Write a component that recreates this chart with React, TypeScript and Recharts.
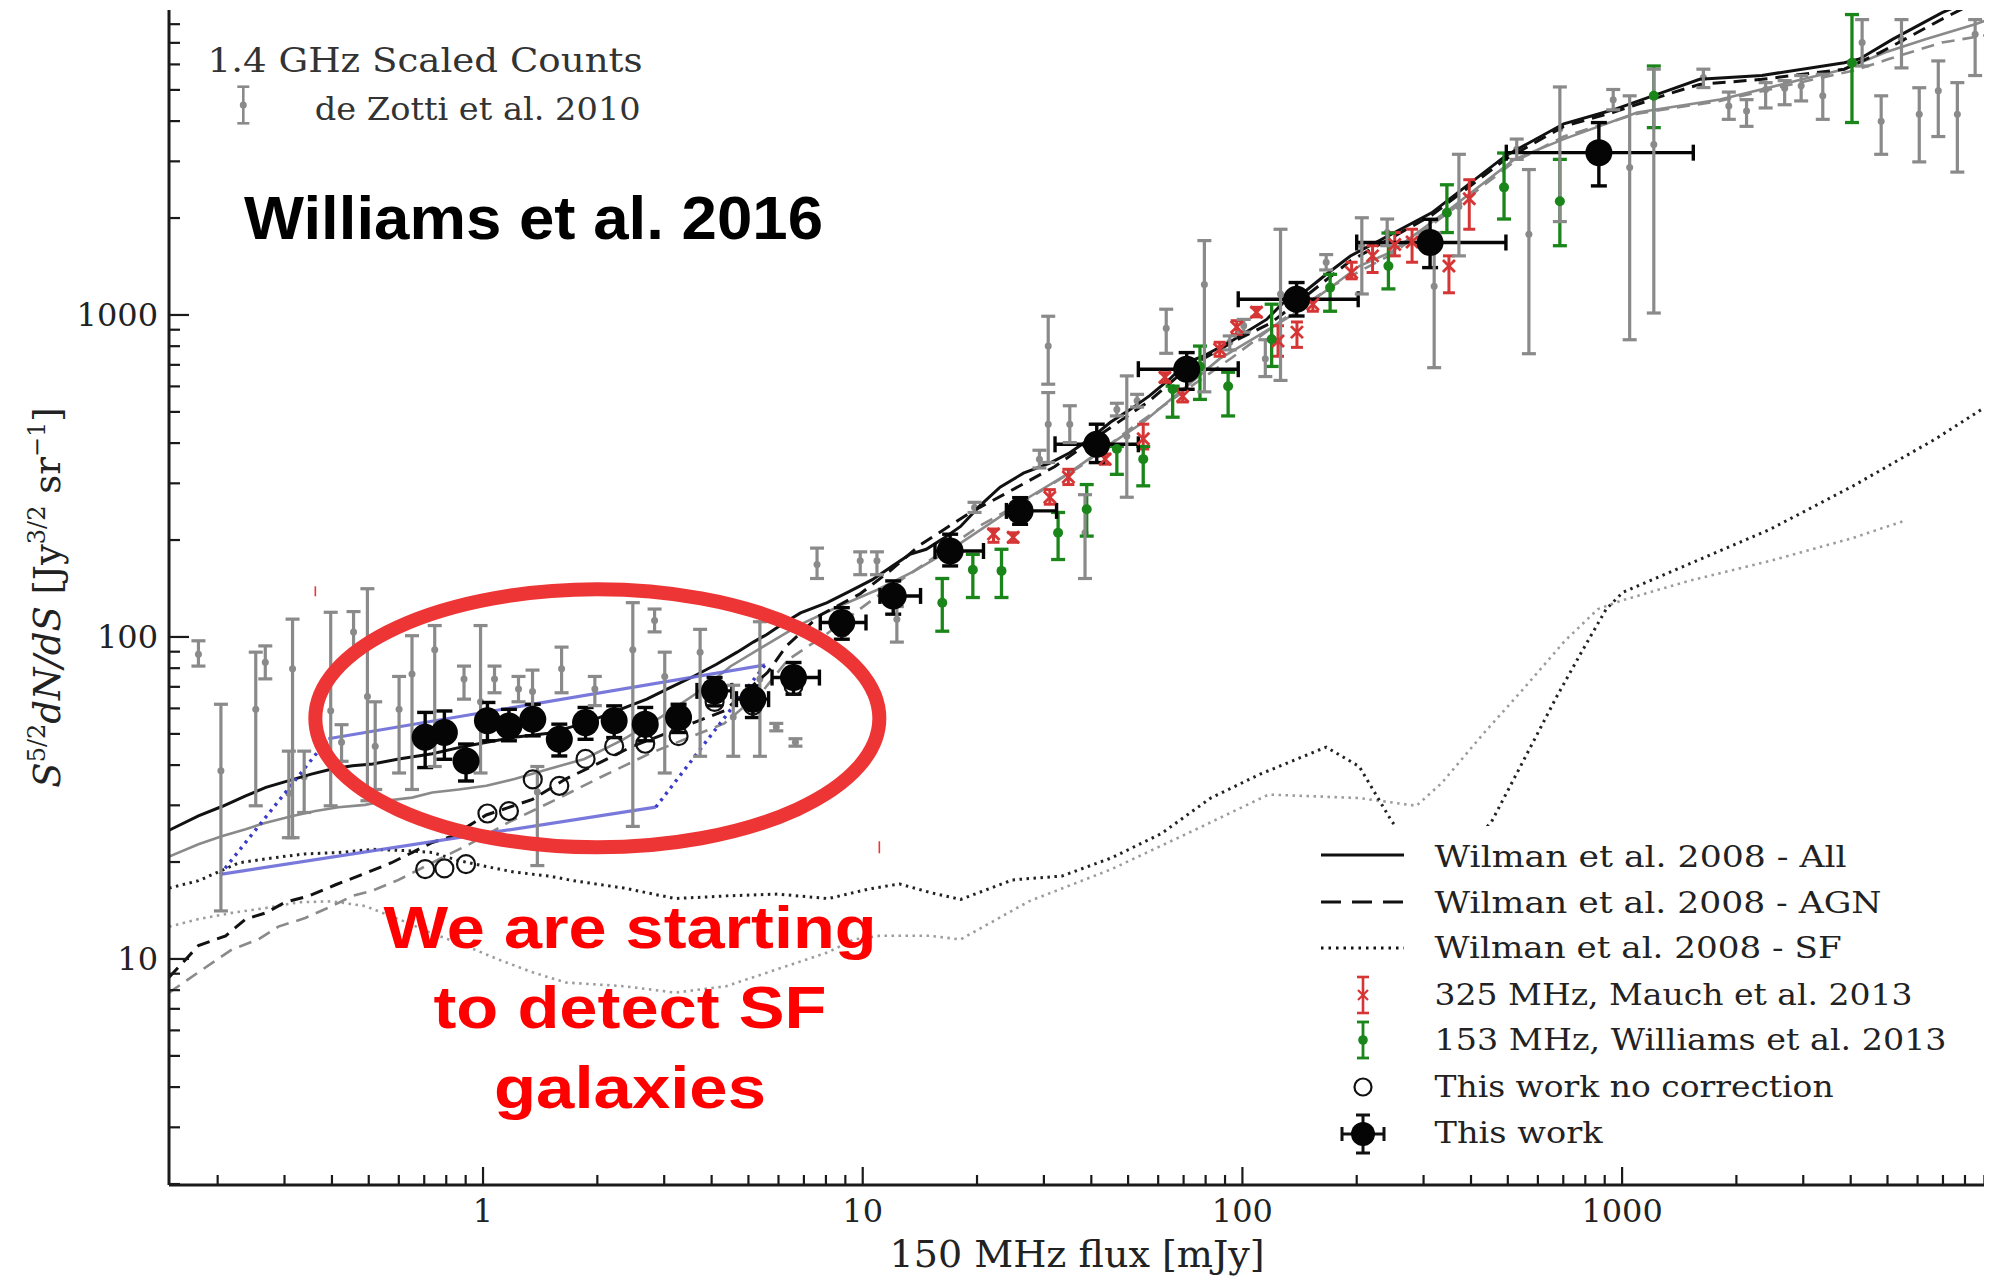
import React from 'react';
import { ComposedChart, XAxis, YAxis, Line, Scatter, ErrorBar, ReferenceDot } from 'recharts';

// ---------- axes ----------
const fluxDomain: [number, number] = [0.1489, 9087];
const countDomain: [number, number] = [1.986, 8854];
const fluxTicks = [
  0.2, 0.3, 0.4, 0.5, 0.6, 0.7, 0.8, 0.9, 1, 2, 3, 4, 5, 6, 7, 8, 9, 10, 20, 30, 40, 50, 60, 70, 80, 90,
  100, 200, 300, 400, 500, 600, 700, 800, 900, 1000, 2000, 3000, 4000, 5000, 6000, 7000, 8000, 9000,
];
const countTicks = [
  2, 3, 4, 5, 6, 7, 8, 9, 10, 20, 30, 40, 50, 60, 70, 80, 90, 100, 200, 300, 400, 500, 600, 700, 800, 900,
  1000, 2000, 3000, 4000, 5000, 6000, 7000, 8000,
];

// ---------- data: [flux mJy, S^5/2 dN/dS, lower, upper] ----------
const deZotti2010: [number, number, number, number][] = [
  [0.178, 88.4, 81.2, 97.3], [0.204, 38.4, 14.1, 61.8], [0.252, 59.6, 29.9, 89.7], [0.267, 83.4, 74.1, 93.8],
  [0.315, 79.7, 23.8, 113.6], [0.308, 32.7, 23.8, 44.2], [0.338, 36.8, 28.5, 44.2], [0.397, 59.0, 29.9, 119.3],
  [0.424, 47.1, 41.1, 53.4], [0.456, 103.7, 88.9, 119.9], [0.496, 65.3, 31.0, 141.2], [0.52, 45.8, 33.6, 62.9],
  [0.601, 59.6, 37.8, 75.4], [0.65, 76.8, 33.6, 100.9], [0.746, 91.3, 39.6, 108.5], [0.891, 74.1, 64.1, 81.2],
  [0.985, 62.9, 37.8, 108.5], [1.072, 74.1, 67.1, 81.2], [1.24, 68.9, 62.9, 75.4], [1.35, 67.7, 59.6, 78.9],
  [1.39, 33.0, 19.5, 39.6], [1.61, 79.7, 67.1, 93.0], [1.97, 68.9, 61.2, 75.4], [2.48, 91.3, 25.8, 127.8],
  [2.83, 112.5, 103.7, 122.1], [3.01, 75.4, 37.8, 89.7], [3.73, 89.7, 42.6, 105.6], [4.56, 56.4, 42.6, 70.8],
  [5.36, 74.1, 42.6, 111.5], [5.92, 52.5, 51.1, 53.9], [6.65, 47.1, 45.8, 48.3], [7.58, 167.9, 151.9, 188.8],
  [9.85, 172.5, 156.1, 183.8], [10.9, 172.5, 156.1, 183.8], [12.3, 113.6, 96.4, 124.3], [19.7, 252.6, 243.6, 261.9],
  [29.2, 356.7, 334.8, 380.1], [30.8, 800.6, 609.5, 990.9], [30.8, 457.9, 348.3, 574.1], [35.1, 457.9, 401.4, 522.5],
  [38.5, 210.6, 151.9, 276.6], [49.6, 420.1, 271.6, 646.8], [46.7, 508.3, 485.8, 531.9], [52.8, 541.7, 517.6, 566.9],
  [63.0, 909.1, 760.2, 1042], [79.4, 1243, 577.1, 1702], [92.6, 822.6, 778.9, 860.9], [100.8, 925.8, 884.6, 968.8],
  [114.9, 730.9, 643.8, 837.7], [126.0, 1162, 626.2, 1846], [166.2, 1458, 1380, 1540], [206.3, 1641, 1162, 2004],
  [240.6, 1803, 1641, 1986], [319.9, 1227, 686, 1797], [371.7, 2174, 1526, 3155], [527.8, 3272, 3042, 3518],
  [568.2, 1780, 758, 2829], [685.6, 3785, 1950, 5107], [947.5, 4663, 4336, 5015], [1047, 2871, 837.7, 4793],
  [1212, 3381, 1014, 5799], [1637, 5467, 5084, 5799], [1910, 4456, 4051, 4924], [2127, 4297, 3853, 4663],
  [2388, 5015, 4395, 5267], [2680, 5060, 4497, 5343], [2962, 5152, 4621, 5541], [3377, 4793, 4051, 5592],
  [4287, 7020, 5932, 8266], [4812, 3996, 3155, 4793], [5443, 7178, 5852, 8266], [6062, 4201, 2988, 5078],
  [6804, 4969, 3582, 6152], [7638, 4201, 2778, 5267], [8508, 7442, 5541, 8266],
];

const mauch2013: [number, number, number, number][] = [
  [22.1, 208.7, 196.8, 216.4], [24.9, 204.0, 196.8, 210.6], [31.1, 271.6, 258.4, 286.8], [34.8, 314.1, 297.4, 331.7],
  [43.5, 356.7, 344.0, 369.8], [54.8, 412.6, 383.5, 457.9], [62.5, 640.3, 618.0, 661.6], [69.6, 559.1, 536.8, 587.8],
  [87.1, 782.5, 744.3, 822.6], [96.6, 917.4, 871.0, 959.9], [108.9, 1019, 986.5, 1056], [124.1, 830.0, 744.3, 925.8],
  [139.2, 884.6, 793.2, 951.2], [153.3, 1080, 1027, 1120], [193.9, 1355, 1295, 1458], [220.2, 1526, 1355, 1641],
  [251.9, 1656, 1526, 1803], [279.8, 1686, 1458, 1846], [349.9, 1419, 1172, 1526], [395.8, 2296, 1846, 2631],
];

const williams2013: [number, number, number, number][] = [
  [16.2, 127.8, 104.2, 151.9], [19.5, 161.8, 132.6, 180.5], [23.2, 160.4, 132.6, 187.2], [32.7, 210.6, 174.0, 243.6],
  [38.9, 249.2, 205.7, 297.4], [46.7, 383.5, 319.9, 390.5], [54.8, 356.7, 294.7, 390.5], [65.5, 587.8, 481.4, 600.8],
  [77.3, 692.1, 546.7, 800.6], [91.7, 600.8, 485.8, 664.0], [119.4, 840.8, 692.1, 1080], [170.2, 1216, 1027, 1337],
  [242.4, 1419, 1205, 1797], [345.6, 2078, 1803, 2537], [488.7, 2491, 1986, 3184], [685.6, 2254, 1641, 3042],
  [1212, 4793, 3818, 5932], [4031, 6067, 3960, 8570],
];

// [flux, counts, counts low, counts high, flux low, flux high]
const thisWork: [number, number, number, number, number, number][] = [
  [0.704, 48.8, 39.3, 58.3, 0.67, 0.74], [0.791, 50.5, 41.7, 58.9, 0.75, 0.83], [0.902, 41.2, 35.7, 46.5, 0.86, 0.95],
  [1.027, 54.9, 47.6, 62.6, 0.98, 1.08], [1.17, 52.9, 47.6, 59.6, 1.11, 1.23], [1.352, 55.5, 49.3, 61.8, 1.28, 1.42],
  [1.588, 48.1, 42.7, 53.6, 1.51, 1.67], [1.862, 54.2, 48.1, 60.4, 1.77, 1.96], [2.215, 54.9, 48.7, 61.1, 2.1, 2.33],
  [2.674, 53.6, 47.6, 60.4, 2.54, 2.81], [3.273, 56.2, 50.5, 61.8, 3.11, 3.44], [4.072, 68.0, 61.1, 74.8, 3.66, 4.52],
  [5.137, 64.1, 56.2, 70.5, 4.65, 5.65], [6.572, 74.8, 66.4, 83.3, 5.77, 7.69], [8.808, 110.9, 98.4, 123.3, 7.73, 10.2],
  [12.03, 134.1, 117.7, 149.3, 11.1, 14.2], [16.99, 184.9, 166.2, 208.5, 15.5, 20.8], [25.97, 246.3, 223.8, 270.8, 23.9, 32.4],
  [41.34, 396.6, 348.0, 457.9, 32.1, 53.2], [71.32, 678.6, 587.8, 764.1, 53.2, 97.5], [138.9, 1119, 992.7, 1261, 97.5, 201.8],
  [312.1, 1679, 1403, 1982, 200, 494.3], [868.6, 3192, 2517, 3958, 495.5, 1540],
];

const thisWorkNoCorrection: [number, number][] = [
  [0.704, 19.0], [0.791, 19.1], [0.902, 19.7], [1.027, 28.3], [1.17, 28.8], [1.352, 36.1], [1.588, 34.5],
  [1.862, 41.8], [2.215, 45.8], [2.674, 46.6], [3.273, 49.2], [4.072, 62.9], [5.137, 61.2], [6.572, 70.5],
  [8.808, 107], [12.03, 131],
];

// ---------- Wilman et al. 2008 model curves ----------
const wilmanAll: [number, number][] = [
  [0.149, 25.1], [0.178, 27.8], [0.206, 29.8], [0.237, 32.1], [0.268, 34.1], [0.308, 35.8], [0.353, 37.5], [0.4, 38.9],
  [0.453, 39.8], [0.512, 40.3], [0.6, 41.8], [0.735, 43.4], [0.898, 45.8], [1.21, 48.8], [1.47, 50.1], [1.85, 53.9],
  [2.3, 59.6], [2.7, 64.1], [3.1, 69.5], [3.59, 75.5], [4.12, 82.3], [4.67, 89.7], [5.15, 96.4], [5.59, 101.8],
  [6.2, 110.5], [6.86, 118.8], [8.06, 127.8], [9.26, 138.8], [10.6, 150.6], [12.0, 166.5], [13.3, 180.5], [14.7, 187.2],
  [16.2, 201.3], [18.1, 220.4], [20.3, 254.8], [23.0, 291.9], [26.5, 322.6], [31.1, 346.8], [35.1, 373.2], [39.7, 412.4],
  [44.9, 464.2], [50.6, 508.3], [57.0, 561.8], [64.4, 632.7], [71.2, 711.6], [78.8, 744.5], [94.8, 837.9], [115.8, 968.6],
  [127.9, 1090], [144.8, 1172], [163.8, 1319], [192.5, 1525], [315, 2076], [494, 3125], [702, 3924], [948, 4337],
  [1341, 5012], [1600, 5395], [2333, 5546], [3848, 6073], [4220, 6240], [5152, 7178], [6964, 8690], [7700, 9140],
  [9180, 10000],
];

const wilmanAllAlt: [number, number][] = [
  [0.149, 20.8], [0.178, 22.7], [0.206, 24.1], [0.237, 25.3], [0.268, 26.5], [0.315, 27.8], [0.362, 28.8], [0.416, 29.6],
  [0.489, 30.1], [0.553, 31.0], [0.65, 31.7], [0.735, 32.9], [0.863, 33.6], [1.02, 34.5], [1.21, 36.2], [1.49, 38.9],
  [1.85, 41.8], [2.33, 47.9], [2.94, 56.4], [3.7, 67.6], [4.49, 81.1], [5.44, 93.0], [6.86, 109.4], [8.64, 124.3],
  [10.9, 139.9], [13.7, 160.4], [17.3, 188.8], [21.8, 226.5], [27.4, 271.6], [34.5, 319.9], [43.5, 387.3], [54.8, 464.2],
  [69.1, 582.7], [87.0, 730.5], [109.6, 860.3], [138.1, 1014], [174.1, 1239], [203.2, 1419], [246.2, 1568], [359, 2173],
  [520, 3041], [702, 3516], [1096, 4256], [1811, 4666], [2985, 5395], [3848, 5800], [4920, 6530], [6295, 7178],
  [8511, 8000], [9180, 8260],
];

const wilmanAGN: [number, number][] = [
  [0.149, 8.77], [0.178, 11.0], [0.21, 11.8], [0.237, 13.3], [0.268, 13.9], [0.301, 15.0], [0.348, 15.7], [0.409, 17.0],
  [0.481, 18.3], [0.574, 19.9], [0.65, 21.4], [0.735, 23.0], [0.825, 24.0], [1.02, 28.0], [1.35, 31.3], [1.65, 36.2],
  [2.03, 40.7], [2.48, 45.8], [3.22, 51.5], [4.32, 59.0], [5.61, 77.5], [6.3, 93.8], [7.7, 116.7], [9.85, 136.2],
  [11.8, 160.4], [14.1, 192.3], [19.2, 243.6], [23.5, 276.6], [32.0, 337.8], [43.5, 435.6], [57.0, 541.7], [71.8, 686.0],
  [94.0, 822.6], [118.5, 942.8], [149.3, 1162], [192.4, 1472], [315.0, 2040], [492.5, 3042], [702, 3853], [947.5, 4257],
  [1340, 4880], [1600, 5200], [2333, 5392], [3848, 5799], [4775, 6525], [7020, 8340], [8184, 9133], [9190, 9728],
];

const wilmanAGNAlt: [number, number][] = [
  [0.149, 7.86], [0.178, 9.09], [0.218, 10.7], [0.256, 11.5], [0.289, 12.6], [0.34, 13.4], [0.4, 14.6], [0.453, 15.7],
  [0.512, 16.3], [0.599, 17.6], [0.735, 19.9], [0.926, 22.8], [1.17, 26.6], [1.56, 31.3], [2.09, 37.2], [2.79, 43.8],
  [4.32, 53.9], [5.44, 67.7], [6.35, 84.9], [8.0, 101.8], [10.9, 133.7], [14.8, 170.9], [20.2, 220.4], [27.4, 269.2],
  [37.3, 337.8], [50.8, 443.6], [69.1, 572.0], [94.0, 737.9], [127.9, 968.8], [174.1, 1238], [246.3, 1540], [359.2, 2135],
  [519.6, 2988], [702, 3582], [1097, 4219], [1809, 4621], [2985, 5294], [4093, 5746], [5040, 6235], [6963, 7020],
  [9190, 7409],
];

const wilmanSF: [number, number][] = [
  [0.149, 16.6], [0.178, 17.5], [0.228, 19.9], [0.279, 20.6], [0.34, 21.2], [0.416, 21.4], [0.512, 21.9], [0.625, 21.7],
  [0.735, 21.4], [0.864, 20.2], [0.992, 19.5], [1.21, 18.6], [1.49, 18.1], [1.73, 17.5], [2.35, 16.6], [3.21, 15.4],
  [4.37, 15.7], [5.97, 15.9], [8.12, 15.4], [10.4, 16.5], [12.5, 17.1], [15.0, 16.1], [18.1, 15.3], [24.8, 17.6],
  [33.5, 18.1], [45.2, 20.6], [61.1, 24.5], [82.5, 31.6], [111.4, 37.5], [166.2, 45.5], [203.1, 39.6], [248.1, 26.6],
  [335.0, 18.1], [452.4, 26.6], [552.7, 41.8], [675.1, 65.8], [781.6, 89.7], [908.3, 122.1], [1004, 137.5], [1492, 167.9],
  [2462, 216.4], [4063, 294.7], [6701, 412.6], [9048, 517.6],
];

const wilmanSFAlt: [number, number][] = [
  [0.149, 12.6], [0.178, 13.3], [0.218, 13.9], [0.268, 14.4], [0.327, 15.0], [0.4, 15.1], [0.489, 14.6], [0.599, 13.3],
  [0.735, 12.0], [0.898, 11.0], [1.1, 9.95], [1.35, 9.09], [1.65, 8.45], [2.35, 8.23], [3.21, 7.86], [4.37, 8.23],
  [5.97, 9.3], [8.12, 10.5], [9.48, 11.5], [11.1, 11.8], [15.0, 11.8], [18.1, 11.5], [27.4, 15.1], [45.2, 19.0],
  [74.6, 25.1], [117.2, 32.4], [203.1, 31.6], [287.3, 29.9], [335.0, 35.2], [428.7, 49.7], [552.7, 69.5], [707.1, 97.3],
  [864.2, 122.1], [1004, 130.1], [1492, 149.1], [2462, 172.5], [4063, 203.1], [5483, 228.6],
];

// ---------- hand-drawn guide band ----------
const guideUpper: [number, number][] = [[0.391, 48.3], [5.53, 81.9]];
const guideLower: [number, number][] = [[0.203, 18.3], [2.85, 29.6]];
const guideLeft: [number, number][] = [[0.203, 18.3], [0.391, 48.3]];
const guideRight: [number, number][] = [[2.85, 29.6], [5.53, 81.9]];
const highlightCenter: [number, number] = [2.0, 55.9];

// ---------- styles ----------
const C = {
  axis: '#1a1a1a',
  gray: '#8a8a8a',
  grayLine: '#8a8a8a',
  grayDot: '#9c9c9c',
  black: '#111111',
  red: '#d63535',
  green: '#1a861a',
  blue: '#6a6ad8',
  blueDot: '#3b3bcc',
  ring: '#ee3535',
  note: '#ff0000',
};
const serif = '"DejaVu Serif", "Liberation Serif", serif';
const sans = '"Liberation Sans", Arial, sans-serif';
const DASH = '13 8';
const DOT = '2.5 4.5';

const pts = (a: [number, number][]) => a.map(([x, y]) => ({ x, y }));
const withYErr = (a: [number, number, number, number][]) =>
  a.map(([x, y, lo, hi]) => ({ x, y, ey: [y - lo, hi - y] }));
const thisWorkRows = thisWork.map(([x, y, lo, hi, xlo, xhi]) => ({
  x, y, ey: [y - lo, hi - y], ex: [x - xlo, xhi - x],
}));

const isDecade = (v: number) => Math.abs(Math.log10(v) - Math.round(Math.log10(v))) < 1e-6;
const MAJOR = 18;
const MINOR = 10;

function BottomTick(p: any) {
  const v = p.payload.value;
  const major = isDecade(v);
  return (
    <g>
      <line x1={p.x} x2={p.x} y1={p.y} y2={p.y - (major ? MAJOR : MINOR)} stroke={C.axis} strokeWidth={2.2} />
      {major && (
        <text x={p.x} y={p.y + 37} textAnchor="middle" fontFamily={serif} fontSize={32} fill="#222">
          {v}
        </text>
      )}
    </g>
  );
}
function TopTick(p: any) {
  const major = isDecade(p.payload.value);
  return <line x1={p.x} x2={p.x} y1={p.y} y2={p.y + (major ? MAJOR : MINOR)} stroke={C.axis} strokeWidth={2.2} />;
}
function LeftTick(p: any) {
  const v = p.payload.value;
  const major = isDecade(v);
  return (
    <g>
      <line x1={p.x} x2={p.x + (major ? MAJOR + 2 : MINOR + 1)} y1={p.y} y2={p.y} stroke={C.axis} strokeWidth={2.2} />
      {major && (
        <text x={p.x - 11} y={p.y + 11.5} textAnchor="end" fontFamily={serif} fontSize={32} fill="#222">
          {v}
        </text>
      )}
    </g>
  );
}
function RightTick(p: any) {
  const major = isDecade(p.payload.value);
  return <line x1={p.x} x2={p.x - (major ? MAJOR + 2 : MINOR + 1)} y1={p.y} y2={p.y} stroke={C.axis} strokeWidth={2.2} />;
}

const GrayDot = (p: any) => <circle cx={p.cx} cy={p.cy} r={3.5} fill={C.gray} />;
const RedCross = (p: any) => (
  <g stroke={C.red} strokeWidth={2.8}>
    <line x1={p.cx - 6} y1={p.cy - 6} x2={p.cx + 6} y2={p.cy + 6} />
    <line x1={p.cx - 6} y1={p.cy + 6} x2={p.cx + 6} y2={p.cy - 6} />
  </g>
);
const GreenDot = (p: any) => <circle cx={p.cx} cy={p.cy} r={5} fill={C.green} />;
const OpenRing = (p: any) => <circle cx={p.cx} cy={p.cy} r={9} fill="none" stroke={C.black} strokeWidth={2.2} />;
const BlackDisc = (p: any) => <circle cx={p.cx} cy={p.cy} r={13.5} fill="#050505" />;

const Highlight = (p: any) => (
  <g>
    <ellipse cx={p.cx} cy={p.cy} rx={282} ry={129} fill="none" stroke={C.ring} strokeWidth={14} />
    <line x1={p.cx - 282} x2={p.cx - 282} y1={p.cy - 132} y2={p.cy - 122} stroke={C.ring} strokeWidth={1.6} />
    <line x1={p.cx + 282} x2={p.cx + 282} y1={p.cy + 123} y2={p.cy + 135} stroke={C.ring} strokeWidth={1.6} />
  </g>
);

function ErrMark({ x, y, color, half, cap, sw }: { x: number; y: number; color: string; half: number; cap: number; sw: number }) {
  return (
    <g stroke={color} strokeWidth={sw}>
      <line x1={x} x2={x} y1={y - half} y2={y + half} />
      <line x1={x - cap} x2={x + cap} y1={y - half} y2={y - half} />
      <line x1={x - cap} x2={x + cap} y1={y + half} y2={y + half} />
    </g>
  );
}

function Overlay() {
  const rows = [847, 894, 940, 987, 1032, 1079, 1126];
  const base = [858.7, 905.3, 950.3, 997, 1042, 1088.7, 1135.3];
  const labels: [string, number][] = [
    ['Wilman et al. 2008 - All', 412],
    ['Wilman et al. 2008 - AGN', 447],
    ['Wilman et al. 2008 - SF', 407],
    ['325 MHz, Mauch et al. 2013', 478],
    ['153 MHz, Williams et al. 2013', 512],
    ['This work no correction', 399],
    ['This work', 168],
  ];
  const mx = 1355;
  return (
    <svg width={1984} height={1270} style={{ position: 'absolute', left: 0, top: 0, pointerEvents: 'none' }}>
      {/* upper-left legend */}
      <text x={199.6} y={63.7} fontFamily={serif} fontSize={33} fill="#333" textLength={435} lengthAdjust="spacingAndGlyphs">
        1.4 GHz Scaled Counts
      </text>
      <ErrMark x={235.3} y={97} color={C.gray} half={18.3} cap={6} sw={2.6} />
      <circle cx={235.3} cy={97} r={3.5} fill={C.gray} />
      <text x={306.7} y={112} fontFamily={serif} fontSize={32} fill="#333" textLength={326} lengthAdjust="spacingAndGlyphs">
        de Zotti et al. 2010
      </text>

      {/* annotations */}
      <text x={236} y={231} fontFamily={sans} fontWeight="bold" fontSize={61} fill="#000" textLength={579} lengthAdjust="spacingAndGlyphs">
        Williams et al. 2016
      </text>
      <g fontFamily={sans} fontWeight="bold" fontSize={60} fill={C.note} textAnchor="middle">
        <text x={622} y={940} textLength={493} lengthAdjust="spacingAndGlyphs">We are starting</text>
        <text x={622} y={1020} textLength={393} lengthAdjust="spacingAndGlyphs">to detect SF</text>
        <text x={622} y={1100} textLength={272} lengthAdjust="spacingAndGlyphs">galaxies</text>
      </g>

      {/* lower-right legend */}
      <rect x={1300} y={818} width={657} height={339} fill="#fff" />
      <line x1={1313} x2={1396} y1={rows[0]} y2={rows[0]} stroke={C.black} strokeWidth={3.2} />
      <line x1={1313} x2={1396} y1={rows[1]} y2={rows[1]} stroke={C.black} strokeWidth={3.2} strokeDasharray="20 11" />
      <line x1={1313} x2={1396} y1={rows[2]} y2={rows[2]} stroke={C.black} strokeWidth={3} strokeDasharray="2.5 5" />
      <ErrMark x={mx} y={rows[3]} color={C.red} half={18} cap={6} sw={2.6} />
      <g stroke={C.red} strokeWidth={2.2}>
        <line x1={mx - 5} y1={rows[3] - 5} x2={mx + 5} y2={rows[3] + 5} />
        <line x1={mx - 5} y1={rows[3] + 5} x2={mx + 5} y2={rows[3] - 5} />
      </g>
      <ErrMark x={mx} y={rows[4]} color={C.green} half={18} cap={6} sw={2.8} />
      <circle cx={mx} cy={rows[4]} r={4.8} fill={C.green} />
      <circle cx={mx} cy={rows[5]} r={8.5} fill="none" stroke={C.black} strokeWidth={2.2} />
      <g stroke={C.black} strokeWidth={3}>
        <line x1={mx} x2={mx} y1={rows[6] - 19} y2={rows[6] + 19} />
        <line x1={mx - 7} x2={mx + 7} y1={rows[6] - 19} y2={rows[6] - 19} />
        <line x1={mx - 7} x2={mx + 7} y1={rows[6] + 19} y2={rows[6] + 19} />
        <line x1={mx - 21} x2={mx + 21} y1={rows[6]} y2={rows[6]} />
        <line x1={mx - 21} x2={mx - 21} y1={rows[6] - 7} y2={rows[6] + 7} />
        <line x1={mx + 21} x2={mx + 21} y1={rows[6] - 7} y2={rows[6] + 7} />
      </g>
      <circle cx={mx} cy={rows[6]} r={12} fill="#050505" />
      {labels.map(([t, w], i) => (
        <text key={t} x={1426.6} y={base[i]} fontFamily={serif} fontSize={30} fill="#222" textLength={w} lengthAdjust="spacingAndGlyphs">
          {t}
        </text>
      ))}

      {/* axis titles */}
      <text x={1069} y={1259} textAnchor="middle" fontFamily={serif} fontSize={37} fill="#222" textLength={375} lengthAdjust="spacingAndGlyphs">
        150 MHz flux [mJy]
      </text>
      <text transform="translate(52,589.5) rotate(-90)" textAnchor="middle" fontFamily={serif} fontSize={37} fill="#222">
        <tspan fontStyle="italic">S</tspan>
        <tspan fontSize={24} dy={-15}>5/2</tspan>
        <tspan fontStyle="italic" dy={15}>dN/dS</tspan>
        <tspan> [Jy</tspan>
        <tspan fontSize={24} dy={-15}>3/2</tspan>
        <tspan dy={15}> sr</tspan>
        <tspan fontSize={24} dy={-15}>−1</tspan>
        <tspan dy={15}>]</tspan>
      </text>
    </svg>
  );
}

export default function App() {
  const lineProps = { dataKey: 'y', dot: false, activeDot: false, isAnimationActive: false, type: 'linear' as const };
  return (
    <div style={{ position: 'relative', width: 1984, height: 1270 }}>
      <style>{'body{overflow:hidden}'}</style>
      <ComposedChart width={1984} height={1270} margin={{ top: 2, right: 6, bottom: 0, left: 0 }}>
        <XAxis
          dataKey="x" type="number" scale="log" domain={fluxDomain} allowDataOverflow ticks={fluxTicks}
          interval={0} height={93} tickSize={0} tickMargin={0} tickLine={false}
          axisLine={{ stroke: C.axis, strokeWidth: 3 }} tick={(p: any) => <BottomTick {...p} />}
        />
        <XAxis
          xAxisId="top" orientation="top" dataKey="x" type="number" scale="log" domain={fluxDomain} allowDataOverflow
          ticks={fluxTicks} interval={0} height={0} tickSize={0} tickMargin={0} tickLine={false}
          axisLine={{ stroke: '#444', strokeWidth: 2.5 }} tick={(p: any) => <TopTick {...p} />}
        />
        <YAxis
          dataKey="y" type="number" scale="log" domain={countDomain} allowDataOverflow ticks={countTicks}
          interval={0} width={161} tickSize={0} tickMargin={0} tickLine={false}
          axisLine={{ stroke: C.axis, strokeWidth: 3 }} tick={(p: any) => <LeftTick {...p} />}
        />
        <YAxis
          yAxisId="right" orientation="right" dataKey="y" type="number" scale="log" domain={countDomain} allowDataOverflow
          ticks={countTicks} interval={0} width={0} tickSize={0} tickMargin={0} tickLine={false}
          axisLine={{ stroke: '#444', strokeWidth: 2.5 }} tick={(p: any) => <RightTick {...p} />}
        />

        <Scatter data={withYErr(deZotti2010)} shape={GrayDot} isAnimationActive={false} zIndex={350}>
          <ErrorBar dataKey="ey" direction="y" width={7} stroke={C.gray} strokeWidth={3.2} isAnimationActive={false} />
        </Scatter>

        <Line {...lineProps} data={pts(wilmanSFAlt)} stroke={C.grayDot} strokeWidth={2.6} strokeDasharray={DOT} />
        <Line {...lineProps} data={pts(wilmanAGNAlt)} stroke={C.grayLine} strokeWidth={2.6} strokeDasharray={DASH} />
        <Line {...lineProps} data={pts(wilmanAllAlt)} stroke={C.grayLine} strokeWidth={2.6} />
        <Line {...lineProps} data={pts(wilmanSF)} stroke="#222" strokeWidth={3} strokeDasharray={DOT} />
        <Line {...lineProps} data={pts(wilmanAGN)} stroke={C.black} strokeWidth={3} strokeDasharray={DASH} />
        <Line {...lineProps} data={pts(wilmanAll)} stroke={C.black} strokeWidth={3} />

        <Line {...lineProps} data={pts(guideUpper)} stroke={C.blue} strokeWidth={3.2} strokeOpacity={0.9} />
        <Line {...lineProps} data={pts(guideLower)} stroke={C.blue} strokeWidth={3.2} strokeOpacity={0.9} />
        <Line {...lineProps} data={pts(guideLeft)} stroke={C.blueDot} strokeWidth={3.4} strokeDasharray="3 5" />
        <Line {...lineProps} data={pts(guideRight)} stroke={C.blueDot} strokeWidth={3.4} strokeDasharray="3 5" />

        <Scatter data={withYErr(mauch2013)} shape={RedCross} isAnimationActive={false}>
          <ErrorBar dataKey="ey" direction="y" width={6} stroke={C.red} strokeWidth={3} isAnimationActive={false} />
        </Scatter>
        <Scatter data={withYErr(williams2013)} shape={GreenDot} isAnimationActive={false}>
          <ErrorBar dataKey="ey" direction="y" width={7} stroke={C.green} strokeWidth={3.3} isAnimationActive={false} />
        </Scatter>
        <Scatter data={pts(thisWorkNoCorrection)} shape={OpenRing} isAnimationActive={false} />
        <Scatter data={thisWorkRows} shape={BlackDisc} isAnimationActive={false}>
          <ErrorBar dataKey="ey" direction="y" width={8} stroke="#050505" strokeWidth={3.4} isAnimationActive={false} />
          <ErrorBar dataKey="ex" direction="x" width={8} stroke="#050505" strokeWidth={3.4} isAnimationActive={false} />
        </Scatter>

        <ReferenceDot x={highlightCenter[0]} y={highlightCenter[1]} ifOverflow="visible" shape={Highlight} />
      </ComposedChart>
      <Overlay />
    </div>
  );
}
